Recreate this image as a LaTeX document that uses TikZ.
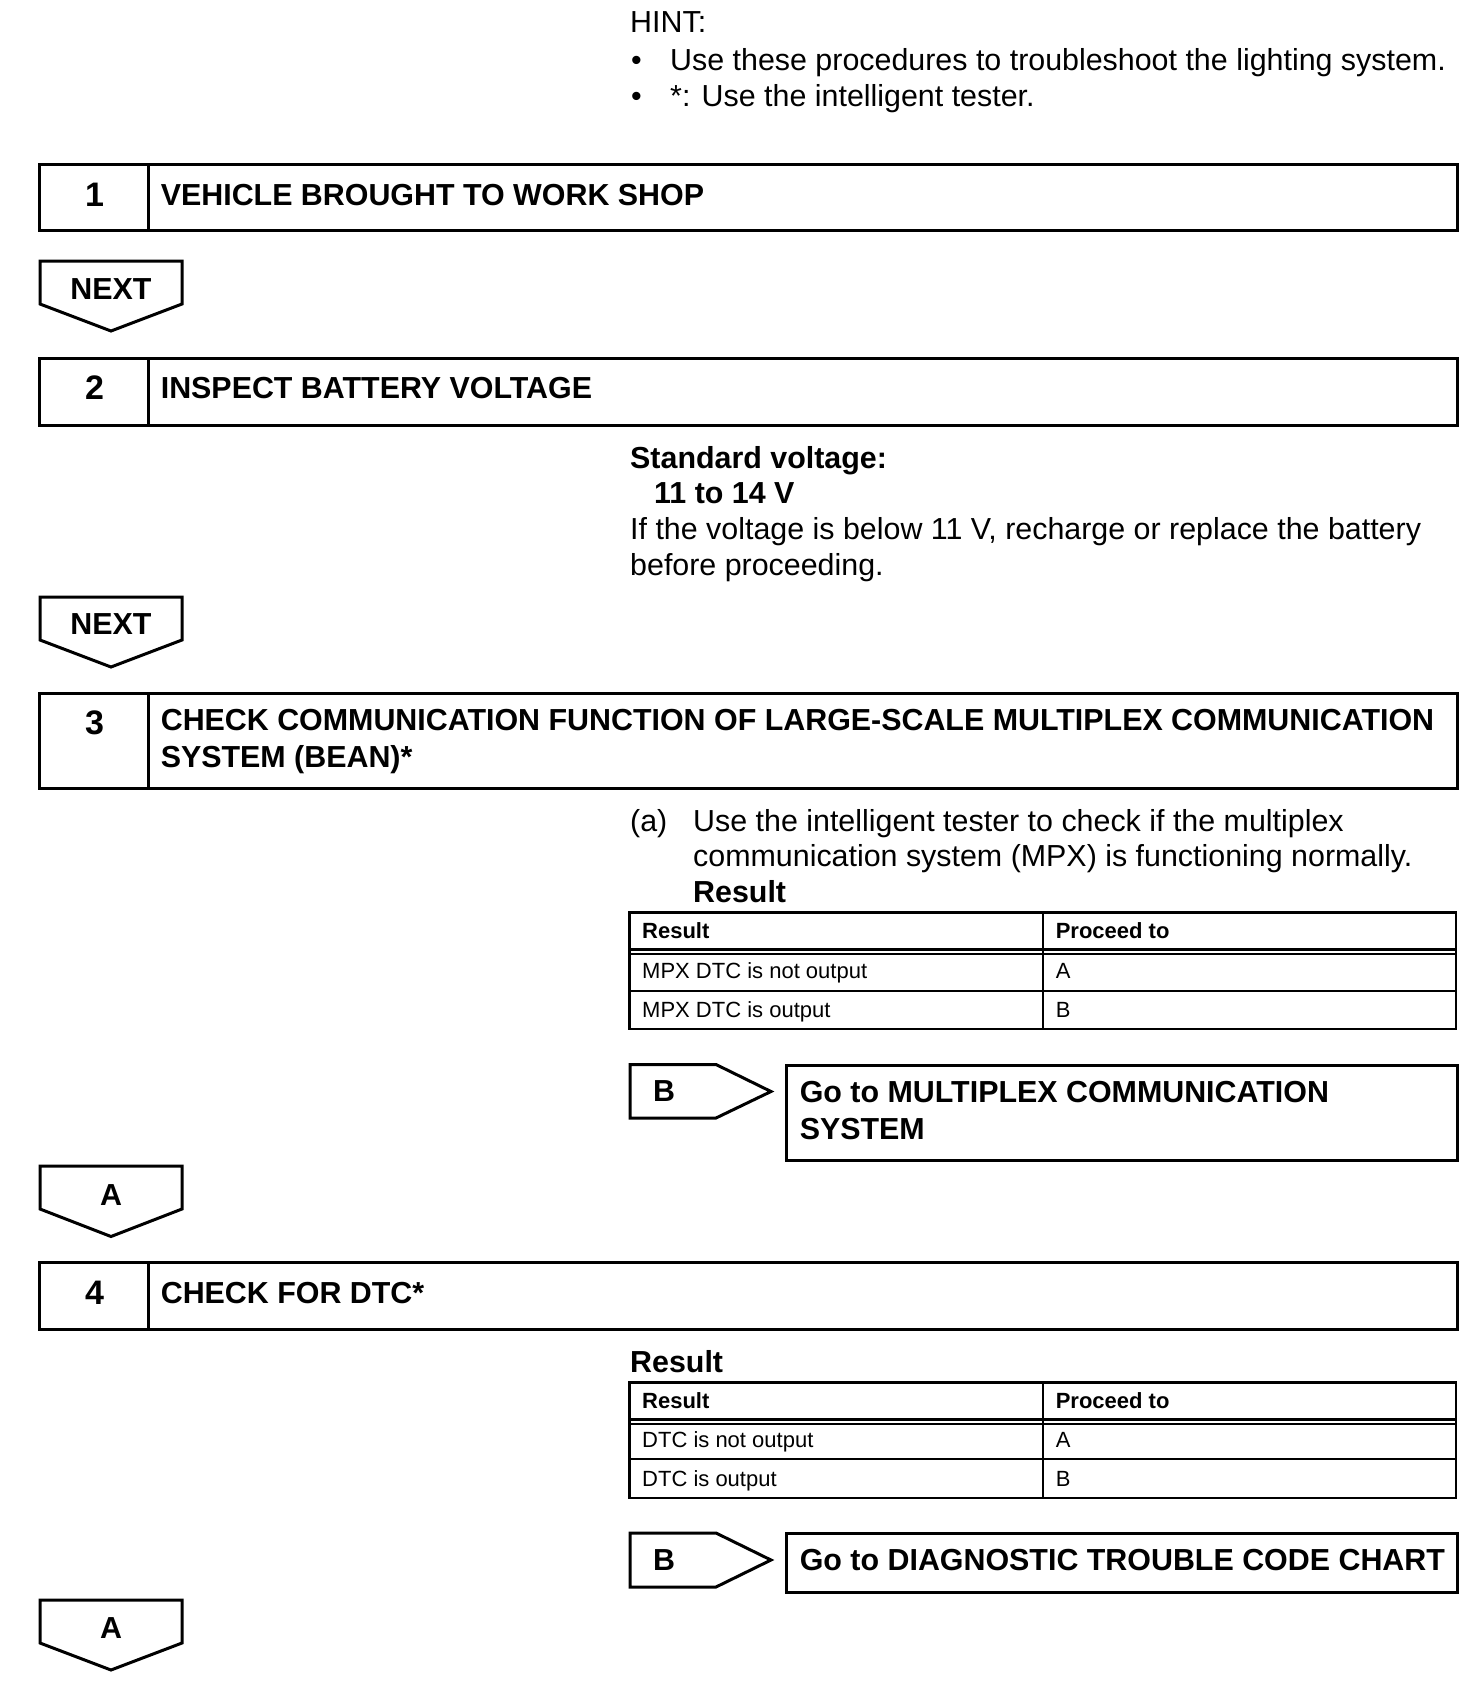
\documentclass[tikz,border=0pt]{standalone}
\usepackage{fontspec}
\setmainfont{Liberation Sans}
\tikzset{
  txt/.style={font=\fontsize{30.4}{36.6}\selectfont, inner sep=0pt, anchor=base west},
  txtb/.style={font=\fontsize{30.4}{36.6}\selectfont\bfseries, inner sep=0pt, anchor=base west},
  tagtxt/.style={font=\fontsize{30.4}{36.6}\selectfont\bfseries, inner sep=0pt, anchor=base},
  num/.style={font=\fontsize{34}{40}\selectfont\bfseries, inner sep=0pt, anchor=base},
  tsm/.style={font=\fontsize{22}{26}\selectfont, inner sep=0pt, anchor=base west},
  tsmb/.style={font=\fontsize{22}{26}\selectfont\bfseries, inner sep=0pt, anchor=base west},
  frame/.style={draw, line width=3pt, rectangle, anchor=north west, inner sep=0pt, outer sep=0pt},
  thick3/.style={line width=3pt},
  tabouter/.style={draw, line width=2.5pt, rectangle, anchor=north west, inner sep=0pt, outer sep=0pt},
  tabinner/.style={line width=1.5pt},
}
\begin{document}
\begin{tikzpicture}[x=1pt,y=-1pt]
\useasboundingbox (0,0) rectangle (1472,1690);

% HINT
\node[txt] (hint) at (630,32.5) {HINT:};
\node[txt] (hb1) at (631,70.2) {•};
\node[txt] (h1) at (670,70.2) {Use these procedures to troubleshoot the lighting system.};
\node[txt] (hb2) at (631,106.8) {•};
\node[txt] (h2) at (670,106.8) {*: Use the intelligent tester.};

% Step 1
\node[frame, minimum width=1418, minimum height=66] (box1) at (39,164) {};
\draw[thick3] (148,164) -- (148,230);
\node[num] (n1) at (94.5,206) {1};
\node[txtb] (t1) at (160.6,205) {VEHICLE BROUGHT TO WORK SHOP};

% NEXT 1
\draw[thick3] (40,261) -- (182,261) -- (182,304) -- (111,331) -- (40,304) -- cycle;
\node[tagtxt] (next1) at (111,299) {NEXT};

% Step 2
\node[frame, minimum width=1418, minimum height=67] (box2) at (39,358) {};
\draw[thick3] (148,358) -- (148,425);
\node[num] (n2) at (94.5,399) {2};
\node[txtb] (t2) at (160.6,398) {INSPECT BATTERY VOLTAGE};

\node[txtb] (std) at (630,468) {Standard voltage:};
\node[txtb] (stdv) at (654,503.4) {11 to 14 V};
\node[txt] (std1) at (630,539) {If the voltage is below 11 V, recharge or replace the battery};
\node[txt] (std2) at (630,575.6) {before proceeding.};

% NEXT 2
\draw[thick3] (40,597) -- (182,597) -- (182,640) -- (111,667) -- (40,640) -- cycle;
\node[tagtxt] (next2) at (111,634) {NEXT};

% Step 3
\node[frame, minimum width=1418, minimum height=95] (box3) at (39,693) {};
\draw[thick3] (148,693) -- (148,788);
\node[num] (n3) at (94.5,734) {3};
\node[txtb] (t3a) at (160.6,730.7) {CHECK COMMUNICATION FUNCTION OF LARGE-SCALE MULTIPLEX COMMUNICATION};
\node[txtb] (t3b) at (160.6,767.4) {SYSTEM (BEAN)*};

\node[txt] (a3) at (630,831) {(a)};
\node[txt] (a3t1) at (693,831) {Use the intelligent tester to check if the multiplex};
\node[txt] (a3t2) at (693,866.5) {communication system (MPX) is functioning normally.};
\node[txtb] (res1) at (693,902) {Result};

% Table 1
\node[tabouter, minimum width=826.5, minimum height=116.3] (tab1) at (629.3,912.7) {};
\draw[line width=2.5pt] (629.3,949.3) -- (1455.8,949.3);
\draw[tabinner] (629.3,954.2) -- (1455.8,954.2);
\draw[tabinner] (629.3,991) -- (1455.8,991);
\draw[tabinner] (1043,912.7) -- (1043,1029);
\node[tsmb] (tab1h1) at (642,938) {Result};
\node[tsmb] (tab1h2) at (1055.6,938) {Proceed to};
\node[tsm] (tab1r1a) at (642,978.5) {MPX DTC is not output};
\node[tsm] (tab1r1b) at (1055.6,978.5) {A};
\node[tsm] (tab1r2a) at (642,1017) {MPX DTC is output};
\node[tsm] (tab1r2b) at (1055.6,1017) {B};

% B tag 1 and go box
\draw[thick3] (630,1064.5) -- (716,1064.5) -- (771,1091.5) -- (716,1118) -- (630,1118) -- cycle;
\node[tagtxt] (b1) at (664,1101.5) {B};
\node[frame, minimum width=670.4, minimum height=94.5] (go1) at (786.6,1065.5) {};
\node[txtb] (go1a) at (799.6,1102.4) {Go to MULTIPLEX COMMUNICATION};
\node[txtb] (go1b) at (799.6,1139) {SYSTEM};

% A tag 1
\draw[thick3] (40,1166) -- (182,1166) -- (182,1209) -- (111,1236.5) -- (40,1209) -- cycle;
\node[tagtxt] (a1) at (111,1205) {A};

% Step 4
\node[frame, minimum width=1418, minimum height=67] (box4) at (39,1262) {};
\draw[thick3] (148,1262) -- (148,1329);
\node[num] (n4) at (94.5,1304) {4};
\node[txtb] (t4) at (160.6,1303) {CHECK FOR DTC*};

\node[txtb] (res2) at (630,1372.4) {Result};

% Table 2
\node[tabouter, minimum width=826.5, minimum height=115.4] (tab2) at (629.3,1382.6) {};
\draw[line width=2.5pt] (629.3,1419.3) -- (1455.8,1419.3);
\draw[tabinner] (629.3,1424) -- (1455.8,1424);
\draw[line width=2.5pt] (629.3,1459) -- (1455.8,1459);
\draw[tabinner] (1043,1382.6) -- (1043,1498);
\node[tsmb] (tab2h1) at (642,1408) {Result};
\node[tsmb] (tab2h2) at (1055.6,1408) {Proceed to};
\node[tsm] (tab2r1a) at (642,1447) {DTC is not output};
\node[tsm] (tab2r1b) at (1055.6,1447) {A};
\node[tsm] (tab2r2a) at (642,1486) {DTC is output};
\node[tsm] (tab2r2b) at (1055.6,1486) {B};

% B tag 2 and go box
\draw[thick3] (630,1533) -- (716,1533) -- (771,1560) -- (716,1587) -- (630,1587) -- cycle;
\node[tagtxt] (b2) at (664,1570) {B};
\node[frame, minimum width=670.4, minimum height=59] (go2) at (786.6,1533) {};
\node[txtb] (go2a) at (799.6,1570.5) {Go to DIAGNOSTIC TROUBLE CODE CHART};

% A tag 2
\draw[thick3] (40,1600) -- (182,1600) -- (182,1643) -- (111,1670) -- (40,1643) -- cycle;
\node[tagtxt] (a2) at (111,1638) {A};
\end{tikzpicture}
\end{document}
